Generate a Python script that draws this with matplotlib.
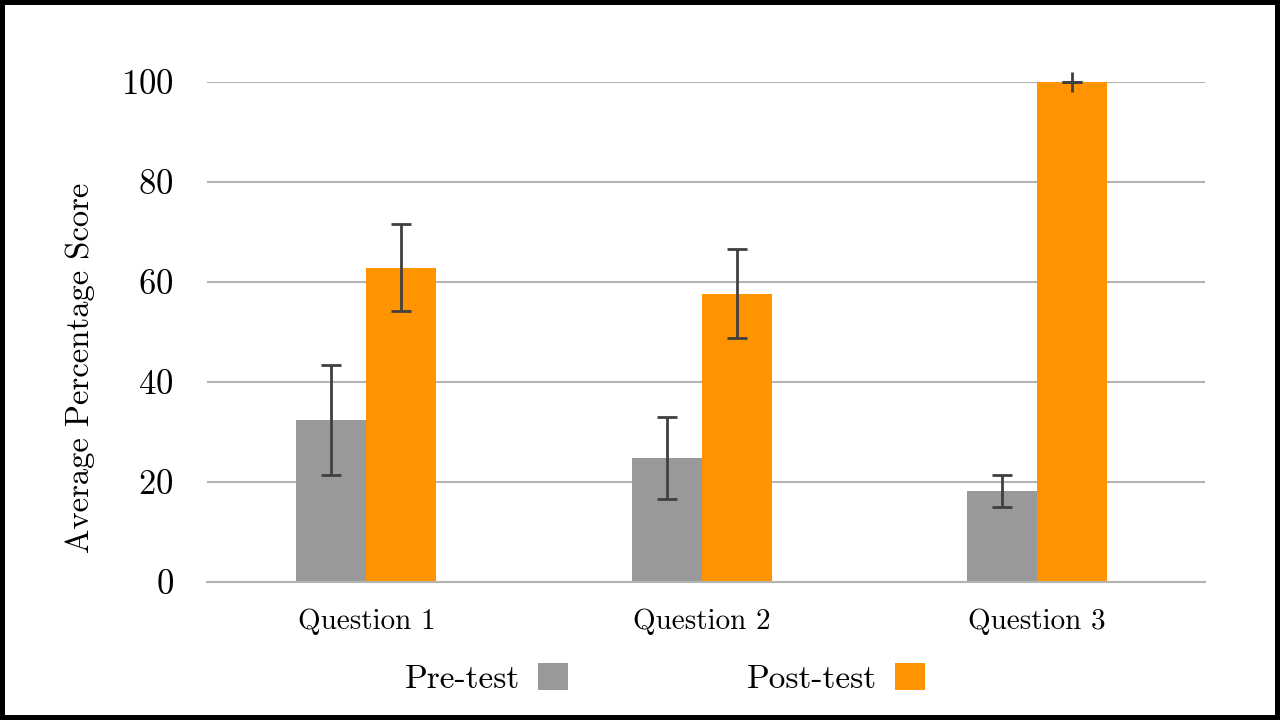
import matplotlib.pyplot as plt
from matplotlib.patches import Patch
import numpy as np

plt.rcParams['font.family'] = ['cmr10', 'DejaVu Serif']
plt.rcParams['axes.formatter.use_mathtext'] = True

questions = ["Question 1", "Question 2", "Question 3"]
pre_scores = [32.4, 24.8, 18.2]
pre_err = [11.0, 8.2, 3.2]
post_scores = [62.8, 57.6, 100.0]
post_err = [8.7, 8.9, 0.0]

grey = "#999999"
orange = "#ff9400"
err_col = "#404040"
grid_col = "#b3b3b3"

fig = plt.figure(figsize=(12.8, 7.2), dpi=100, linewidth=7, edgecolor="black")
ax = fig.add_axes([0.1617, 0.1917, 0.7797, 0.6944])

x = np.arange(len(questions))
w = 0.209
ax.bar(x - w/2, pre_scores, w, color=grey, zorder=2)
ax.bar(x + w/2, post_scores, w, color=orange, zorder=2)

ekw = dict(fmt="none", ecolor=err_col, elinewidth=2, capsize=7.5, capthick=2, zorder=3)
ax.errorbar(x - w/2, pre_scores, yerr=pre_err, **ekw)
eb = ax.errorbar(x + w/2, post_scores, yerr=post_err, **ekw)
for c in eb.lines[1]:
    c.set_clip_on(False)
# zero-width error bar shows as a small cross in the original
zero = np.array(post_err) == 0
ax.plot((x + w/2)[zero], np.array(post_scores)[zero], marker="|", ms=15, mew=2,
        color=err_col, ls="none", zorder=3, clip_on=False)

ax.set_xlim(-0.475, 2.5)
ax.set_ylim(0, 100)
ax.set_yticks([0, 20, 40, 60, 80, 100])
ax.set_xticks(x)
ax.set_xticklabels(questions, fontsize=21)
ax.tick_params(axis="y", length=0, pad=24, labelsize=25)
ax.tick_params(axis="x", length=0, pad=19)
ax.yaxis.grid(True, color=grid_col, linewidth=1.5, zorder=0)
for s in ["top", "right", "left"]:
    ax.spines[s].set_visible(False)
ax.spines["bottom"].set_color(grid_col)
ax.spines["bottom"].set_linewidth(1.5)
ax.set_ylabel("Average Percentage Score", fontsize=23.5)
ax.yaxis.set_label_coords(-0.112, 0.428)

handles = [Patch(facecolor=grey), Patch(facecolor=orange)]
fig.legend(handles, ["Pre-test", "Post-test"], loc="center", bbox_to_anchor=(0.5195, 0.058),
           ncol=2, frameon=False, markerfirst=False, fontsize=24,
           handlelength=0.9, handleheight=0.9, handletextpad=0.55, columnspacing=5.35)

fig.savefig("out.png", dpi=100, edgecolor="black")
